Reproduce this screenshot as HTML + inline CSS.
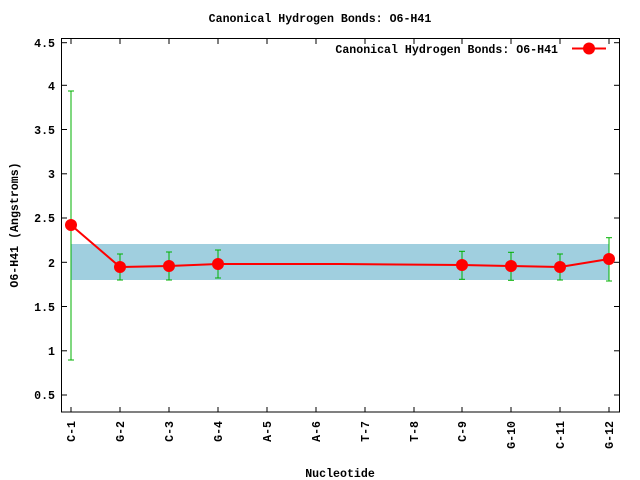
<!DOCTYPE html>
<html><head><style>body{margin:0;background:#fff}svg{display:block}text{font-family:"Liberation Mono",monospace;font-weight:bold;font-size:11.6px;fill:#000}</style></head><body>
<svg width="640" height="480" xmlns="http://www.w3.org/2000/svg">
<rect x="0" y="0" width="640" height="480" fill="#fff"/>
<rect x="71" y="244" width="538" height="36" fill="#a0cfdf"/>
<text x="320" y="22" text-anchor="middle">Canonical Hydrogen Bonds: O6-H41</text>
<rect x="61.5" y="38.5" width="558" height="373.5" fill="none" stroke="#000" stroke-width="1"/>
<g stroke="#000" stroke-width="1">
<line x1="62" y1="42.7" x2="67" y2="42.7"/><line x1="619" y1="42.7" x2="614" y2="42.7"/>
<line x1="62" y1="85.3" x2="67" y2="85.3"/><line x1="619" y1="85.3" x2="614" y2="85.3"/>
<line x1="62" y1="129.5" x2="67" y2="129.5"/><line x1="619" y1="129.5" x2="614" y2="129.5"/>
<line x1="62" y1="173.8" x2="67" y2="173.8"/><line x1="619" y1="173.8" x2="614" y2="173.8"/>
<line x1="62" y1="218" x2="67" y2="218"/><line x1="619" y1="218" x2="614" y2="218"/>
<line x1="62" y1="262.3" x2="67" y2="262.3"/><line x1="619" y1="262.3" x2="614" y2="262.3"/>
<line x1="62" y1="306.5" x2="67" y2="306.5"/><line x1="619" y1="306.5" x2="614" y2="306.5"/>
<line x1="62" y1="350.8" x2="67" y2="350.8"/><line x1="619" y1="350.8" x2="614" y2="350.8"/>
<line x1="62" y1="395" x2="67" y2="395"/><line x1="619" y1="395" x2="614" y2="395"/>
</g>
<g stroke="#000" stroke-width="1" id="xt">
<line x1="71" y1="412" x2="71" y2="407"/><line x1="71" y1="39" x2="71" y2="44"/>
<line x1="120" y1="412" x2="120" y2="407"/><line x1="120" y1="39" x2="120" y2="44"/>
<line x1="169" y1="412" x2="169" y2="407"/><line x1="169" y1="39" x2="169" y2="44"/>
<line x1="218" y1="412" x2="218" y2="407"/><line x1="218" y1="39" x2="218" y2="44"/>
<line x1="267" y1="412" x2="267" y2="407"/><line x1="267" y1="39" x2="267" y2="44"/>
<line x1="316" y1="412" x2="316" y2="407"/><line x1="316" y1="39" x2="316" y2="44"/>
<line x1="365" y1="412" x2="365" y2="407"/><line x1="365" y1="39" x2="365" y2="44"/>
<line x1="414" y1="412" x2="414" y2="407"/><line x1="414" y1="39" x2="414" y2="44"/>
<line x1="462" y1="412" x2="462" y2="407"/><line x1="462" y1="39" x2="462" y2="44"/>
<line x1="511" y1="412" x2="511" y2="407"/><line x1="511" y1="39" x2="511" y2="44"/>
<line x1="560" y1="412" x2="560" y2="407"/><line x1="560" y1="39" x2="560" y2="44"/>
<line x1="609" y1="412" x2="609" y2="407"/><line x1="609" y1="39" x2="609" y2="44"/>
</g>
<g text-anchor="end">
<text x="55" y="47">4.5</text><text x="55" y="90">4</text><text x="55" y="134">3.5</text>
<text x="55" y="178">3</text><text x="55" y="222">2.5</text><text x="55" y="267">2</text>
<text x="55" y="311">1.5</text><text x="55" y="355">1</text><text x="55" y="399">0.5</text>
</g>
<g text-anchor="end">
<text transform="translate(75,421) rotate(-90)">C-1</text>
<text transform="translate(124,421) rotate(-90)">G-2</text>
<text transform="translate(173,421) rotate(-90)">C-3</text>
<text transform="translate(222,421) rotate(-90)">G-4</text>
<text transform="translate(271,421) rotate(-90)">A-5</text>
<text transform="translate(320,421) rotate(-90)">A-6</text>
<text transform="translate(369,421) rotate(-90)">T-7</text>
<text transform="translate(418,421) rotate(-90)">T-8</text>
<text transform="translate(466,421) rotate(-90)">C-9</text>
<text transform="translate(515,421) rotate(-90)">G-10</text>
<text transform="translate(564,421) rotate(-90)">C-11</text>
<text transform="translate(613,421) rotate(-90)">G-12</text>
</g>
<text x="340" y="477" text-anchor="middle">Nucleotide</text>
<text transform="translate(18,225) rotate(-90)" text-anchor="middle">O6-H41 (Angstroms)</text>
<g stroke="#00b000" stroke-width="1">
<line x1="71" y1="91" x2="71" y2="360"/><line x1="68" y1="91" x2="74" y2="91"/><line x1="68" y1="360" x2="74" y2="360"/>
<line x1="120" y1="254" x2="120" y2="280"/><line x1="117" y1="254" x2="123" y2="254"/><line x1="117" y1="280" x2="123" y2="280"/>
<line x1="169" y1="252" x2="169" y2="280"/><line x1="166" y1="252" x2="172" y2="252"/><line x1="166" y1="280" x2="172" y2="280"/>
<line x1="218" y1="250" x2="218" y2="278"/><line x1="215" y1="250" x2="221" y2="250"/><line x1="215" y1="278" x2="221" y2="278"/>
<line x1="462" y1="251.3" x2="462" y2="279.3"/><line x1="459" y1="251.3" x2="465" y2="251.3"/><line x1="459" y1="279.3" x2="465" y2="279.3"/>
<line x1="511" y1="252.3" x2="511" y2="280.3"/><line x1="508" y1="252.3" x2="514" y2="252.3"/><line x1="508" y1="280.3" x2="514" y2="280.3"/>
<line x1="560" y1="254" x2="560" y2="280"/><line x1="557" y1="254" x2="563" y2="254"/><line x1="557" y1="280" x2="563" y2="280"/>
<line x1="609" y1="237.7" x2="609" y2="281"/><line x1="606" y1="237.7" x2="612" y2="237.7"/><line x1="606" y1="281" x2="612" y2="281"/>
</g>
<polyline fill="none" stroke="#f00" stroke-width="2" points="71,225 120,267 169,266 218,264 340,264 462,265 511,266 560,267 609,259"/>
<g fill="#f00">
<circle cx="71" cy="225" r="6"/><circle cx="120" cy="267" r="6"/><circle cx="169" cy="266" r="6"/>
<circle cx="218" cy="264" r="6"/><circle cx="462" cy="265" r="6"/><circle cx="511" cy="266" r="6"/>
<circle cx="560" cy="267" r="6"/><circle cx="609" cy="259" r="6"/>
</g>
<text x="558" y="53" text-anchor="end">Canonical Hydrogen Bonds: O6-H41</text>
<line x1="572" y1="48.5" x2="606" y2="48.5" stroke="#f00" stroke-width="2"/>
<circle cx="589" cy="48.5" r="6" fill="#f00"/>
</svg>
</body></html>
